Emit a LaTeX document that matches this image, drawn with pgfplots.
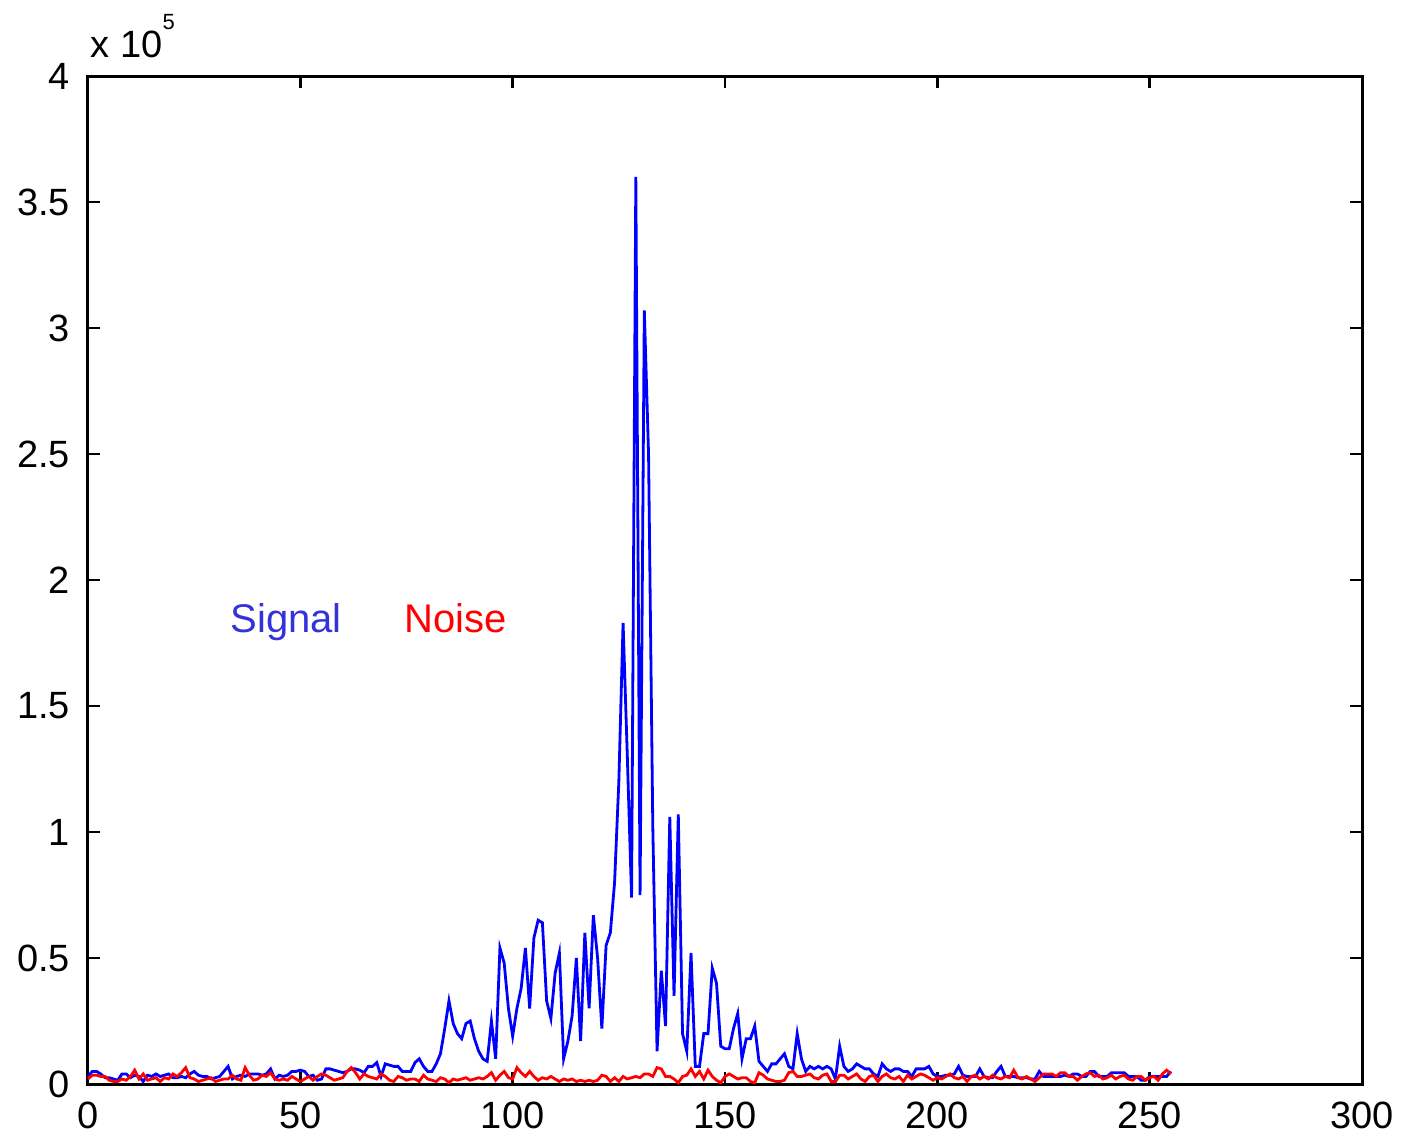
\documentclass[border=0pt]{standalone}
\usepackage{fontspec}
\setmainfont{Liberation Sans}
\usepackage{pgfplots}
\pgfplotsset{compat=1.18}

\definecolor{sigtext}{rgb}{0.2,0.2,0.85}

% y values in units of 10^5
\pgfplotstableread{
x y
0 0.03
1 0.05
2 0.05
3 0.04
4 0.025
5 0.025
6 0.02
7 0.015
8 0.04
9 0.04
10 0.025
11 0.035
12 0.03
13 0.01
14 0.035
15 0.03
16 0.04
17 0.03
18 0.035
19 0.04
20 0.025
21 0.025
22 0.03
23 0.025
24 0.04
25 0.05
26 0.035
27 0.03
28 0.03
29 0.02
30 0.025
31 0.03
32 0.05
33 0.07
34 0.02
35 0.03
36 0.035
37 0.03
38 0.04
39 0.04
40 0.04
41 0.035
42 0.04
43 0.06
44 0.02
45 0.035
46 0.03
47 0.035
48 0.05
49 0.05
50 0.055
51 0.05
52 0.03
53 0.035
54 0.015
55 0.02
56 0.06
57 0.06
58 0.055
59 0.05
60 0.045
61 0.05
62 0.06
63 0.06
64 0.055
65 0.045
66 0.07
67 0.07
68 0.085
69 0.03
70 0.08
71 0.075
72 0.07
73 0.07
74 0.05
75 0.05
76 0.05
77 0.085
78 0.1
79 0.07
80 0.05
81 0.05
82 0.08
83 0.12
84 0.22
85 0.33
86 0.24
87 0.2
88 0.18
89 0.24
90 0.25
91 0.18
92 0.13
93 0.1
94 0.09
95 0.25
96 0.1
97 0.54
98 0.48
99 0.3
100 0.19
101 0.3
102 0.38
103 0.54
104 0.3
105 0.58
106 0.65
107 0.64
108 0.33
109 0.26
110 0.44
111 0.52
112 0.1
113 0.17
114 0.27
115 0.5
116 0.17
117 0.6
118 0.3
119 0.67
120 0.5
121 0.22
122 0.55
123 0.6
124 0.8
125 1.2
126 1.83
127 1.3
128 0.74
129 3.6
130 0.75
131 3.07
132 2.5
133 1.02
134 0.13
135 0.45
136 0.23
137 1.06
138 0.35
139 1.07
140 0.2
141 0.13
142 0.52
143 0.07
144 0.07
145 0.2
146 0.2
147 0.46
148 0.4
149 0.15
150 0.14
151 0.14
152 0.22
153 0.28
154 0.1
155 0.18
156 0.18
157 0.23
158 0.09
159 0.07
160 0.05
161 0.08
162 0.08
163 0.1
164 0.12
165 0.07
166 0.06
167 0.2
168 0.1
169 0.05
170 0.07
171 0.06
172 0.07
173 0.06
174 0.07
175 0.06
176 0.02
177 0.15
178 0.07
179 0.05
180 0.06
181 0.08
182 0.07
183 0.06
184 0.06
185 0.04
186 0.03
187 0.08
188 0.06
189 0.05
190 0.06
191 0.06
192 0.05
193 0.05
194 0.03
195 0.06
196 0.06
197 0.06
198 0.07
199 0.04
200 0.03
201 0.03
202 0.035
203 0.035
204 0.04
205 0.07
206 0.035
207 0.03
208 0.03
209 0.03
210 0.06
211 0.03
212 0.025
213 0.025
214 0.05
215 0.07
216 0.03
217 0.03
218 0.03
219 0.025
220 0.025
221 0.025
222 0.02
223 0.02
224 0.05
225 0.03
226 0.03
227 0.03
228 0.03
229 0.03
230 0.035
231 0.03
232 0.04
233 0.04
234 0.03
235 0.03
236 0.05
237 0.05
238 0.03
239 0.03
240 0.03
241 0.045
242 0.045
243 0.045
244 0.045
245 0.03
246 0.03
247 0.03
248 0.015
249 0.015
250 0.03
251 0.03
252 0.03
253 0.03
254 0.03
255 0.05
}\signaltab

\pgfplotstableread{
x y
0 0.02
1 0.035
2 0.035
3 0.03
4 0.03
5 0.015
6 0.01
7 0.01
8 0.02
9 0.015
10 0.03
11 0.055
12 0.02
13 0.04
14 0.015
15 0.02
16 0.025
17 0.01
18 0.025
19 0.02
20 0.04
21 0.03
22 0.045
23 0.065
24 0.025
25 0.02
26 0.01
27 0.015
28 0.02
29 0.025
30 0.01
31 0.015
32 0.02
33 0.02
34 0.035
35 0.02
36 0.015
37 0.065
38 0.035
39 0.015
40 0.02
41 0.035
42 0.03
43 0.045
44 0.02
45 0.015
46 0.02
47 0.015
48 0.03
49 0.02
50 0.01
51 0.02
52 0.03
53 0.015
54 0.03
55 0.04
56 0.035
57 0.025
58 0.015
59 0.02
60 0.025
61 0.05
62 0.065
63 0.045
64 0.02
65 0.04
66 0.03
67 0.025
68 0.02
69 0.04
70 0.03
71 0.015
72 0.01
73 0.03
74 0.025
75 0.015
76 0.02
77 0.02
78 0.01
79 0.035
80 0.02
81 0.015
82 0.01
83 0.025
84 0.02
85 0.005
86 0.02
87 0.015
88 0.02
89 0.025
90 0.015
91 0.02
92 0.025
93 0.02
94 0.03
95 0.045
96 0.015
97 0.035
98 0.05
99 0.025
100 0.02
101 0.065
102 0.045
103 0.03
104 0.05
105 0.03
106 0.015
107 0.025
108 0.02
109 0.03
110 0.02
111 0.01
112 0.02
113 0.015
114 0.02
115 0.01
116 0.015
117 0.01
118 0.015
119 0.01
120 0.015
121 0.035
122 0.03
123 0.01
124 0.025
125 0.01
126 0.03
127 0.02
128 0.025
129 0.03
130 0.025
131 0.04
132 0.04
133 0.03
134 0.065
135 0.06
136 0.03
137 0.03
138 0.02
139 0.005
140 0.03
141 0.035
142 0.06
143 0.03
144 0.05
145 0.02
146 0.055
147 0.03
148 0.015
149 0.005
150 0.03
151 0.04
152 0.03
153 0.02
154 0.025
155 0.025
156 0.01
157 0.005
158 0.045
159 0.035
160 0.02
161 0.015
162 0.01
163 0.01
164 0.015
165 0.045
166 0.05
167 0.03
168 0.03
169 0.035
170 0.04
171 0.025
172 0.02
173 0.035
174 0.04
175 0.01
176 0.01
177 0.035
178 0.035
179 0.02
180 0.03
181 0.04
182 0.02
183 0.01
184 0.03
185 0.035
186 0.01
187 0.03
188 0.04
189 0.025
190 0.02
191 0.03
192 0.01
193 0.035
194 0.02
195 0.03
196 0.04
197 0.035
198 0.025
199 0.015
200 0.025
201 0.02
202 0.03
203 0.04
204 0.025
205 0.02
206 0.03
207 0.01
208 0.03
209 0.035
210 0.02
211 0.03
212 0.02
213 0.035
214 0.025
215 0.02
216 0.03
217 0.025
218 0.055
219 0.025
220 0.02
221 0.03
222 0.02
223 0.01
224 0.025
225 0.04
226 0.04
227 0.04
228 0.03
229 0.045
230 0.045
231 0.03
232 0.03
233 0.015
234 0.03
235 0.04
236 0.045
237 0.03
238 0.035
239 0.02
240 0.025
241 0.035
242 0.02
243 0.03
244 0.035
245 0.02
246 0.015
247 0.03
248 0.03
249 0.015
250 0.025
251 0.03
252 0.015
253 0.04
254 0.055
255 0.04
}\noisetab

\begin{document}
\begin{tikzpicture}
\begin{axis}[
  scale only axis,
  width=318.5pt,
  height=252pt,
  xmin=0, xmax=300,
  ymin=0, ymax=4,
  xtick={0,50,100,150,200,250,300},
  ytick={0,0.5,1,1.5,2,2.5,3,3.5,4},
  yticklabels={0,0.5,1,1.5,2,2.5,3,3.5,4},
  scaled ticks=false,
  tick pos=both,
  tick align=inside,
  major tick length=3pt,
  axis line style={line width=0.75pt},
  every tick/.style={black, line width=0.6pt},
  ticklabel style={font=\fontsize{9.5}{11}\selectfont},
  /pgf/number format/assume math mode=true,
  xticklabel style={yshift=-1pt},
  yticklabel style={xshift=-1pt},
  clip=false,
]
\addplot[blue, line width=0.7pt] table[x=x, y=y] {\signaltab};
\addplot[red, line width=0.7pt] table[x=x, y=y] {\noisetab};
\node[anchor=base west, inner sep=0, text=sigtext, font=\fontsize{10}{12}\selectfont]
  at (axis cs:33.4,1.79) {Signal};
\node[anchor=base west, inner sep=0, text=red, font=\fontsize{10}{12}\selectfont]
  at (axis cs:74.4,1.79) {Noise};
\node[anchor=base west, inner sep=0, font=\fontsize{9.5}{11}\selectfont]
  at (axis cs:0.5,4.075) {x 10\raisebox{7pt}{\fontsize{5.5}{6}\selectfont 5}};
\end{axis}
\pgfresetboundingbox
\path[use as bounding box] (-22pt,-13.5pt) rectangle (328.25pt,271pt);
\end{tikzpicture}
\end{document}
